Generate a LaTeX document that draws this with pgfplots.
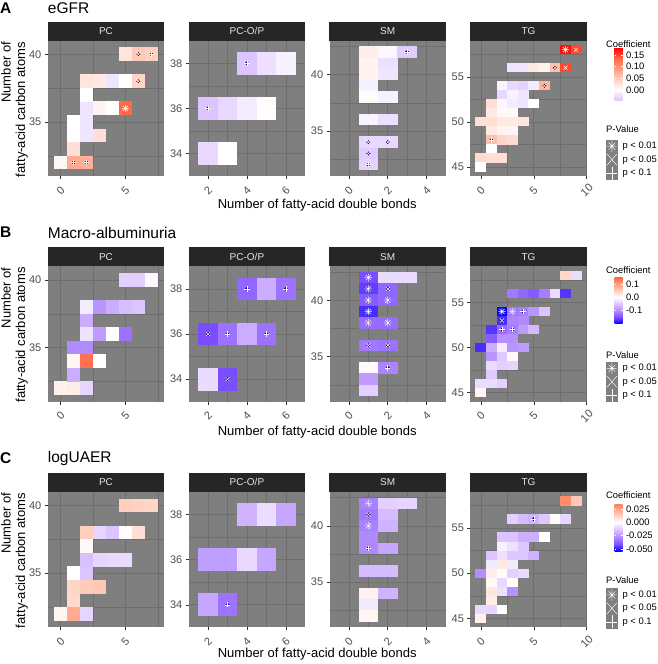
\documentclass[border=0pt]{standalone}
\usepackage{pgfplots}
\pgfplotsset{compat=1.18}
\usepackage{fontspec}
\setmainfont{Liberation Sans}
\definecolor{pgray}{RGB}{127,127,127}
\definecolor{gridc}{RGB}{110,110,110}
\definecolor{stripc}{RGB}{38,38,38}
\definecolor{striptxt}{RGB}{229,229,229}
\definecolor{labc}{RGB}{77,77,77}
\definecolor{tickc}{RGB}{51,51,51}
\definecolor{dotred}{RGB}{225,0,0}
\definecolor{dotblue}{RGB}{0,0,255}
\newcommand\smallf{\fontsize{10}{12}\selectfont}
\newcommand\legf{\fontsize{9.4}{11}\selectfont}
\newcommand\tickf{\fontsize{11}{12}\selectfont}
\newcommand\axf{\fontsize{13}{14.5}\selectfont}
\newcommand\ttf{\fontsize{15.5}{18}\selectfont}
% tile marks (half width/height in pt of one data unit)
\pgfdeclareplotmark{tPC}{\pgfpathrectangle{\pgfqpoint{-6.57pt}{-6.87pt}}{\pgfqpoint{13.14pt}{13.74pt}}\pgfusepathqfill}
\pgfdeclareplotmark{tOP}{\pgfpathrectangle{\pgfqpoint{-9.81pt}{-11.38pt}}{\pgfqpoint{19.62pt}{22.76pt}}\pgfusepathqfill}
\pgfdeclareplotmark{tSM}{\pgfpathrectangle{\pgfqpoint{-9.81pt}{-5.74pt}}{\pgfqpoint{19.62pt}{11.48pt}}\pgfusepathqfill}
\pgfdeclareplotmark{tTG}{\pgfpathrectangle{\pgfqpoint{-5.40pt}{-4.61pt}}{\pgfqpoint{10.80pt}{9.22pt}}\pgfusepathqfill}
\pgfdeclareplotmark{star8}{%
 \pgfpathmoveto{\pgfqpoint{-\pgfplotmarksize}{0pt}}\pgfpathlineto{\pgfqpoint{\pgfplotmarksize}{0pt}}%
 \pgfpathmoveto{\pgfqpoint{0pt}{-\pgfplotmarksize}}\pgfpathlineto{\pgfqpoint{0pt}{\pgfplotmarksize}}%
 \pgfpathmoveto{\pgfqpoint{-.7071\pgfplotmarksize}{-.7071\pgfplotmarksize}}\pgfpathlineto{\pgfqpoint{.7071\pgfplotmarksize}{.7071\pgfplotmarksize}}%
 \pgfpathmoveto{\pgfqpoint{-.7071\pgfplotmarksize}{.7071\pgfplotmarksize}}\pgfpathlineto{\pgfqpoint{.7071\pgfplotmarksize}{-.7071\pgfplotmarksize}}%
 \pgfusepathqstroke}
\pgfplotsset{
 /pgf/number format/assume math mode=true,
 colormap={cc}{rgb255(0cm)=(0,0,255); rgb255(1cm)=(126,81,255); rgb255(2cm)=(179,139,255); rgb255(3cm)=(220,197,255); rgb255(4cm)=(255,255,255); rgb255(5cm)=(255,207,191); rgb255(6cm)=(255,158,129); rgb255(7cm)=(255,104,70); rgb255(8cm)=(255,0,0)},
 facet/.style={
  scale only axis, width=116.5pt, height=135.3pt,
  axis background/.style={fill=pgray},
  grid=both,
  major grid style={draw=gridc, line width=0.55pt},
  minor grid style={draw=gridc, line width=0.3pt},
  axis line style={draw=none},
  tick align=outside, tick pos=left,
  major tick length=2.8pt, minor tick length=0pt,
  tick style={tickc, line width=0.5pt},
  ticklabel style={font=\tickf, text=labc},
  xticklabel style={yshift=-11.5pt, rotate=45, anchor=center},
  colormap name=cc,
  every axis title/.style={at={(0.5,1)}, anchor=south, fill=stripc, text=striptxt, minimum width=116.5pt, minimum height=19pt, inner sep=0pt, font=\smallf},
  scatter/use mapped color={draw=none, fill=mapped color},
 },
 pcax/.style={facet, xmin=-1,xmax=8,ymin=31,ymax=41,xtick={0,5},ytick={35,40},minor xtick={2.5,7.5},minor ytick={32.5,37.5},title={PC}},
 opax/.style={facet, xmin=1,xmax=7,ymin=33,ymax=39,xtick={2,4,6},ytick={34,36,38},minor xtick={3,5},minor ytick={35,37},title={PC-O/P}},
 smax/.style={facet, xmin=-1,xmax=5,ymin=31,ymax=43,xtick={0,2,4},ytick={35,40},minor xtick={1,3},minor ytick={32.5,37.5,42.5},title={SM}},
 tgax/.style={facet, xmin=-1,xmax=10,ymin=44,ymax=59,xtick={0,5,10},ytick={45,50,55},minor xtick={2.5,7.5},minor ytick={47.5,52.5,57.5},title={TG}},
 tiles/.style={scatter, only marks, scatter src=explicit, mark=#1, forget plot},
 dotR/.style={only marks, mark=*, mark size=1.7pt, mark options={draw=none, fill=dotred}, forget plot},
 dotB/.style={only marks, mark=*, mark size=1.7pt, mark options={draw=none, fill=dotblue}, forget plot},
 pP/.style={only marks, mark=+, mark size=2.7pt, mark options={white, line width=0.5pt}, forget plot},
 pX/.style={only marks, mark=x, mark size=2.7pt, mark options={white, line width=0.5pt}, forget plot},
 pA/.style={only marks, mark=star8, mark size=3.6pt, mark options={white, line width=0.5pt}, forget plot},
 pleg/.style={legend style={at={(1,1)}, anchor=north west, xshift=19.3pt, yshift=#1, draw=none, fill=none, inner sep=0pt, row sep=0pt, column sep=5pt, font=\legf, nodes={inner sep=0pt, anchor=west}}, legend cell align=left},
 cbar/.style={colorbar style={at={(parent axis.north east)}, anchor=north west, xshift=19.3pt,
  scale only axis, width=8pt, yticklabel pos=right, scaled y ticks=false,
  yticklabel style={font=\legf, text=black}, axis line style={draw=none},
  major tick length=1.8pt, tick align=inside, ytick pos=both, tick style={white, line width=0.5pt}}},
 keyA/.style={legend image code/.code={\fill[pgray] (0pt,-6.5pt) rectangle (11pt,6.5pt); \draw[white, line width=0.45pt] (0.8pt,0pt)--(10.2pt,0pt) (5.5pt,-5.6pt)--(5.5pt,5.6pt) (2.2pt,-3.6pt)--(8.8pt,3.6pt) (2.2pt,3.6pt)--(8.8pt,-3.6pt); \fill[white] (5.5pt,0pt) circle (0.9pt);}},
 keyX/.style={legend image code/.code={\fill[pgray] (0pt,-6.5pt) rectangle (11pt,6.5pt); \draw[white, line width=0.45pt] (0.6pt,-5.6pt)--(10.4pt,5.6pt) (0.6pt,5.6pt)--(10.4pt,-5.6pt);}},
 keyP/.style={legend image code/.code={\fill[pgray] (0pt,-6.5pt) rectangle (11pt,6.5pt); \draw[white, line width=0.45pt] (0pt,0pt)--(11pt,0pt) (5.5pt,-6.5pt)--(5.5pt,6.5pt);}},
}
\begin{document}
\begin{tikzpicture}
\useasboundingbox (0,0) rectangle (658pt,-664pt);
%================ ROW A: eGFR =================
\node[anchor=west, font=\ttf\bfseries, inner sep=0pt] at (0pt,-8pt) {A};
\node[anchor=west, font=\ttf, inner sep=0pt] at (47.7pt,-8pt) {eGFR};
\begin{axis}[pcax, at={(47.7pt,-176pt)}, anchor=south west, point meta min=-0.181, point meta max=0.181]
\addplot[tiles=tPC] table[meta=c]{
x y c
0 32 0.008
1 32 0.08
2 32 0.075
1 33 0.03
1 34 0.0
2 34 -0.02
3 34 0.03
1 35 0.0
2 35 -0.02
2 36 -0.02
3 36 0.01
4 36 0.0
5 36 0.135
2 37 0.0
2 38 0.025
3 38 0.02
4 38 -0.02
5 38 0.0
6 38 0.04
5 40 0.025
6 40 0.05
7 40 0.045
};
\addplot[dotR] coordinates {(1,32)(2,32)(7,40)(6,40)(6,38)};
\addplot[pP] coordinates {(1,32)(2,32)(7,40)};
\addplot[pX] coordinates {(6,40)(6,38)};
\addplot[pA] coordinates {(5,36)};
\end{axis}
\begin{axis}[opax, at={(188.7pt,-176pt)}, anchor=south west, point meta min=-0.181, point meta max=0.181]
\addplot[tiles=tOP] table[meta=c]{
x y c
2 34 -0.03
3 34 0.0
2 36 -0.045
3 36 -0.03
4 36 -0.015
5 36 0.003
4 38 -0.045
5 38 -0.025
6 38 -0.01
};
\addplot[dotB] coordinates {(4,38)(2,36)};
\addplot[pP] coordinates {(4,38)(2,36)};
\end{axis}
\begin{axis}[smax, at={(329.5pt,-176pt)}, anchor=south west, point meta min=-0.181, point meta max=0.181]
\addplot[tiles=tSM] table[meta=c]{
x y c
1 42 0.015
2 42 -0.005
3 42 -0.04
1 41 0.01
2 41 -0.025
1 40 0.01
2 40 -0.02
1 39 -0.01
1 38 0.003
2 38 -0.01
1 36 -0.008
2 36 -0.025
1 34 -0.03
2 34 -0.03
1 33 -0.04
1 32 -0.035
};
\addplot[dotB] coordinates {(3,42)(1,32)(1,34)(2,34)(1,33)};
\addplot[pP] coordinates {(3,42)(1,32)};
\addplot[pX] coordinates {(1,34)(2,34)(1,33)};
\end{axis}
\begin{axis}[tgax, at={(470.2pt,-176pt)}, anchor=south west, point meta min=-0.181, point meta max=0.181,
 colorbar, cbar, colorbar style={yshift=-7pt, height=52.3pt, ymin=-0.043, ymax=0.181,
  ytick={0,0.05,0.1,0.15}, yticklabels={0.00,0.05,0.10,0.15}},
 pleg=-98.6pt]
\addplot[tiles=tTG] table[meta=c]{
x y c
8 58 0.175
9 58 0.15
3 56 -0.02
4 56 -0.02
5 56 0.02
6 56 0.01
7 56 0.06
8 56 0.15
2 54 -0.008
3 54 -0.03
4 54 -0.035
5 54 -0.015
6 54 0.07
2 53 -0.03
3 53 -0.01
4 53 -0.02
1 52 0.03
2 52 -0.005
3 52 -0.015
4 52 -0.02
5 52 0.0
1 51 0.02
2 51 0.005
3 51 0.005
0 50 0.03
1 50 0.03
2 50 0.02
3 50 0.02
4 50 0.025
1 49 0.02
2 49 0.01
3 49 0.01
1 48 0.06
2 48 0.04
3 48 0.035
1 47 0.0
0 46 0.035
1 46 0.03
2 46 0.03
0 45 0.0
};
\addplot[dotR] coordinates {(7,56)(6,54)(1,48)};
\addplot[pA] coordinates {(8,58)};
\addplot[pX] coordinates {(9,58)(8,56)(7,56)(6,54)};
\addplot[pP] coordinates {(1,48)};
\addlegendimage{keyA}\addlegendentry{p < 0.01}
\addlegendimage{keyX}\addlegendentry{p < 0.05}
\addlegendimage{keyP}\addlegendentry{p < 0.1}
\end{axis}
\node[anchor=west, font=\legf, inner sep=0pt] at (606pt,-44pt) {Coefficient};
\node[anchor=west, font=\legf, inner sep=0pt] at (606pt,-129.5pt) {P-Value};
\node[font=\axf, inner sep=0pt] at (317.2pt,-205pt) {Number of fatty-acid double bonds};
\node[rotate=90, align=right, font=\axf, inner sep=0pt] at (14.5pt,-109.5pt) {Number of\\fatty-acid carbon atoms};
%================ ROW B: Macro-albuminuria =================
\node[anchor=west, font=\ttf\bfseries, inner sep=0pt] at (0pt,-232.5pt) {B};
\node[anchor=west, font=\ttf, inner sep=0pt] at (47.7pt,-232.5pt) {Macro-albuminuria};
\begin{axis}[pcax, at={(47.7pt,-401.7pt)}, anchor=south west, point meta min=-0.198, point meta max=0.198]
\addplot[tiles=tPC] table[meta=c]{
x y c
0 32 0.015
1 32 0.02
2 32 -0.035
1 33 -0.07
1 34 0.01
2 34 0.14
3 34 0.0
1 35 -0.1
2 35 -0.1
2 36 -0.025
3 36 -0.085
4 36 0.0
5 36 -0.12
2 37 -0.07
2 38 -0.015
3 38 -0.09
4 38 -0.07
5 38 -0.055
6 38 -0.05
5 40 -0.04
6 40 -0.04
7 40 -0.005
};
\end{axis}
\begin{axis}[opax, at={(188.7pt,-401.7pt)}, anchor=south west, point meta min=-0.198, point meta max=0.198]
\addplot[tiles=tOP] table[meta=c]{
x y c
2 34 -0.03
3 34 -0.15
2 36 -0.15
3 36 -0.12
4 36 -0.07
5 36 -0.12
4 38 -0.13
5 38 -0.07
6 38 -0.12
};
\addplot[dotB] coordinates {(4,38)(6,38)(3,36)(5,36)(2,36)(3,34)};
\addplot[pP] coordinates {(4,38)(6,38)(3,36)(5,36)};
\addplot[pX] coordinates {(2,36)(3,34)};
\end{axis}
\begin{axis}[smax, at={(329.5pt,-401.7pt)}, anchor=south west, point meta min=-0.198, point meta max=0.198]
\addplot[tiles=tSM] table[meta=c]{
x y c
1 42 -0.15
2 42 -0.03
3 42 -0.03
1 41 -0.16
2 41 -0.13
1 40 -0.14
2 40 -0.13
1 39 -0.17
1 38 -0.125
2 38 -0.125
1 36 -0.115
2 36 -0.12
1 34 0.005
2 34 -0.105
1 33 -0.085
1 32 -0.04
};
\addplot[dotB] coordinates {(1,42)(1,41)(1,40)(2,40)(1,39)(1,38)(2,38)(2,41)(1,36)(2,36)(2,34)};
\addplot[pA] coordinates {(1,42)(1,41)(1,40)(2,40)(1,39)(1,38)(2,38)};
\addplot[pX] coordinates {(2,41)(1,36)(2,36)};
\addplot[pP] coordinates {(2,34)};
\end{axis}
\begin{axis}[tgax, at={(470.2pt,-401.7pt)}, anchor=south west, point meta min=-0.198, point meta max=0.198,
 colorbar, cbar, colorbar style={yshift=-10.6pt, height=46.7pt, ymin=-0.198, ymax=0.153,
  ytick={-0.1,0,0.1}, yticklabels={-0.1,0.0,0.1}},
 pleg=-95pt]
\addplot[tiles=tTG] table[meta=c]{
x y c
8 58 0.04
9 58 -0.03
3 56 -0.115
4 56 -0.13
5 56 -0.14
6 56 -0.11
7 56 -0.03
8 56 -0.165
2 54 -0.195
3 54 -0.115
4 54 -0.11
5 54 -0.09
6 54 -0.05
2 53 -0.17
3 53 -0.105
4 53 -0.1
1 52 -0.165
2 52 -0.125
3 52 -0.11
4 52 -0.085
5 52 -0.06
1 51 -0.14
2 51 -0.095
3 51 -0.095
0 50 -0.17
1 50 -0.07
2 50 -0.015
3 50 -0.09
4 50 -0.085
1 49 -0.09
2 49 -0.045
3 49 0.005
1 48 -0.03
2 48 -0.04
3 48 -0.035
1 47 -0.045
0 46 -0.03
1 46 -0.03
2 46 -0.04
0 45 0.01
};
\addplot[dotB] coordinates {(2,54)(3,54)(4,54)(2,53)(2,52)(3,52)};
\addplot[pA] coordinates {(2,54)(3,54)};
\addplot[pX] coordinates {(2,53)};
\addplot[pP] coordinates {(4,54)(2,52)(3,52)};
\addlegendimage{keyA}\addlegendentry{p < 0.01}
\addlegendimage{keyX}\addlegendentry{p < 0.05}
\addlegendimage{keyP}\addlegendentry{p < 0.1}
\end{axis}
\node[anchor=west, font=\legf, inner sep=0pt] at (606pt,-270pt) {Coefficient};
\node[anchor=west, font=\legf, inner sep=0pt] at (606pt,-355.5pt) {P-Value};
\node[font=\axf, inner sep=0pt] at (317.2pt,-432pt) {Number of fatty-acid double bonds};
\node[rotate=90, align=right, font=\axf, inner sep=0pt] at (14.5pt,-335pt) {Number of\\fatty-acid carbon atoms};
%================ ROW C: logUAER =================
\node[anchor=west, font=\ttf\bfseries, inner sep=0pt] at (0pt,-458pt) {C};
\node[anchor=west, font=\ttf, inner sep=0pt] at (47.7pt,-458pt) {logUAER};
\begin{axis}[pcax, at={(47.7pt,-627.3pt)}, anchor=south west, point meta min=-0.055, point meta max=0.055]
\addplot[tiles=tPC] table[meta=c]{
x y c
0 32 0.003
1 32 0.024
2 32 -0.01
1 33 0.011
1 34 0.012
2 34 0.015
3 34 0.016
1 35 0.0
2 35 -0.014
2 36 -0.015
3 36 -0.01
4 36 -0.009
5 36 -0.009
2 37 0.002
2 38 0.014
3 38 -0.01
4 38 -0.014
5 38 0.001
6 38 0.009
5 40 0.014
6 40 0.013
7 40 0.012
};
\end{axis}
\begin{axis}[opax, at={(188.7pt,-627.3pt)}, anchor=south west, point meta min=-0.055, point meta max=0.055]
\addplot[tiles=tOP] table[meta=c]{
x y c
2 34 -0.021
3 34 -0.033
2 36 -0.023
3 36 -0.023
4 36 -0.009
5 36 -0.021
4 38 -0.018
5 38 -0.008
6 38 -0.021
};
\addplot[dotB] coordinates {(3,34)};
\addplot[pP] coordinates {(3,34)};
\end{axis}
\begin{axis}[smax, at={(329.5pt,-627.3pt)}, anchor=south west, point meta min=-0.055, point meta max=0.055]
\addplot[tiles=tSM] table[meta=c]{
x y c
1 42 -0.03
2 42 -0.011
3 42 -0.01
1 41 -0.032
2 41 -0.016
1 40 -0.03
2 40 -0.018
1 39 -0.028
1 38 -0.028
2 38 -0.021
1 36 -0.016
2 36 -0.016
1 34 0.004
2 34 -0.018
1 33 -0.005
1 32 0.003
};
\addplot[dotB] coordinates {(1,42)(1,40)(1,41)(1,38)};
\addplot[pA] coordinates {(1,42)(1,40)};
\addplot[pX] coordinates {(1,41)};
\addplot[pP] coordinates {(1,38)};
\end{axis}
\begin{axis}[tgax, at={(470.2pt,-627.3pt)}, anchor=south west, point meta min=-0.055, point meta max=0.055,
 colorbar, cbar, colorbar style={yshift=-12.7pt, height=46.7pt, ymin=-0.055, ymax=0.034,
  ytick={-0.05,-0.025,0,0.025}, yticklabels={-0.050,-0.025,0.000,0.025}},
 pleg=-96pt]
\addplot[tiles=tTG] table[meta=c]{
x y c
8 58 0.032
9 58 0.016
3 56 -0.011
4 56 -0.016
5 56 -0.018
6 56 -0.013
7 56 0.001
8 56 -0.01
2 54 -0.014
3 54 -0.014
4 54 -0.019
5 54 -0.019
6 54 0.0
2 53 -0.003
3 53 -0.007
4 53 -0.013
1 52 -0.014
2 52 -0.007
3 52 -0.013
4 52 -0.013
5 52 -0.018
1 51 -0.005
2 51 0.006
3 51 -0.005
0 50 -0.027
1 50 0.005
2 50 0.001
3 50 -0.011
4 50 -0.009
1 49 0.002
2 49 -0.009
3 49 0.001
1 48 0.007
2 48 -0.007
3 48 -0.026
1 47 0.005
0 46 -0.009
1 46 -0.01
2 46 0.0
0 45 0.004
};
\addplot[dotB] coordinates {(5,56)};
\addplot[pP] coordinates {(5,56)};
\addlegendimage{keyA}\addlegendentry{p < 0.01}
\addlegendimage{keyX}\addlegendentry{p < 0.05}
\addlegendimage{keyP}\addlegendentry{p < 0.1}
\end{axis}
\node[anchor=west, font=\legf, inner sep=0pt] at (606pt,-495pt) {Coefficient};
\node[anchor=west, font=\legf, inner sep=0pt] at (606pt,-580.5pt) {P-Value};
\node[font=\axf, inner sep=0pt] at (317.2pt,-654pt) {Number of fatty-acid double bonds};
\node[rotate=90, align=right, font=\axf, inner sep=0pt] at (14.5pt,-560.5pt) {Number of\\fatty-acid carbon atoms};
\end{tikzpicture}
\end{document}
